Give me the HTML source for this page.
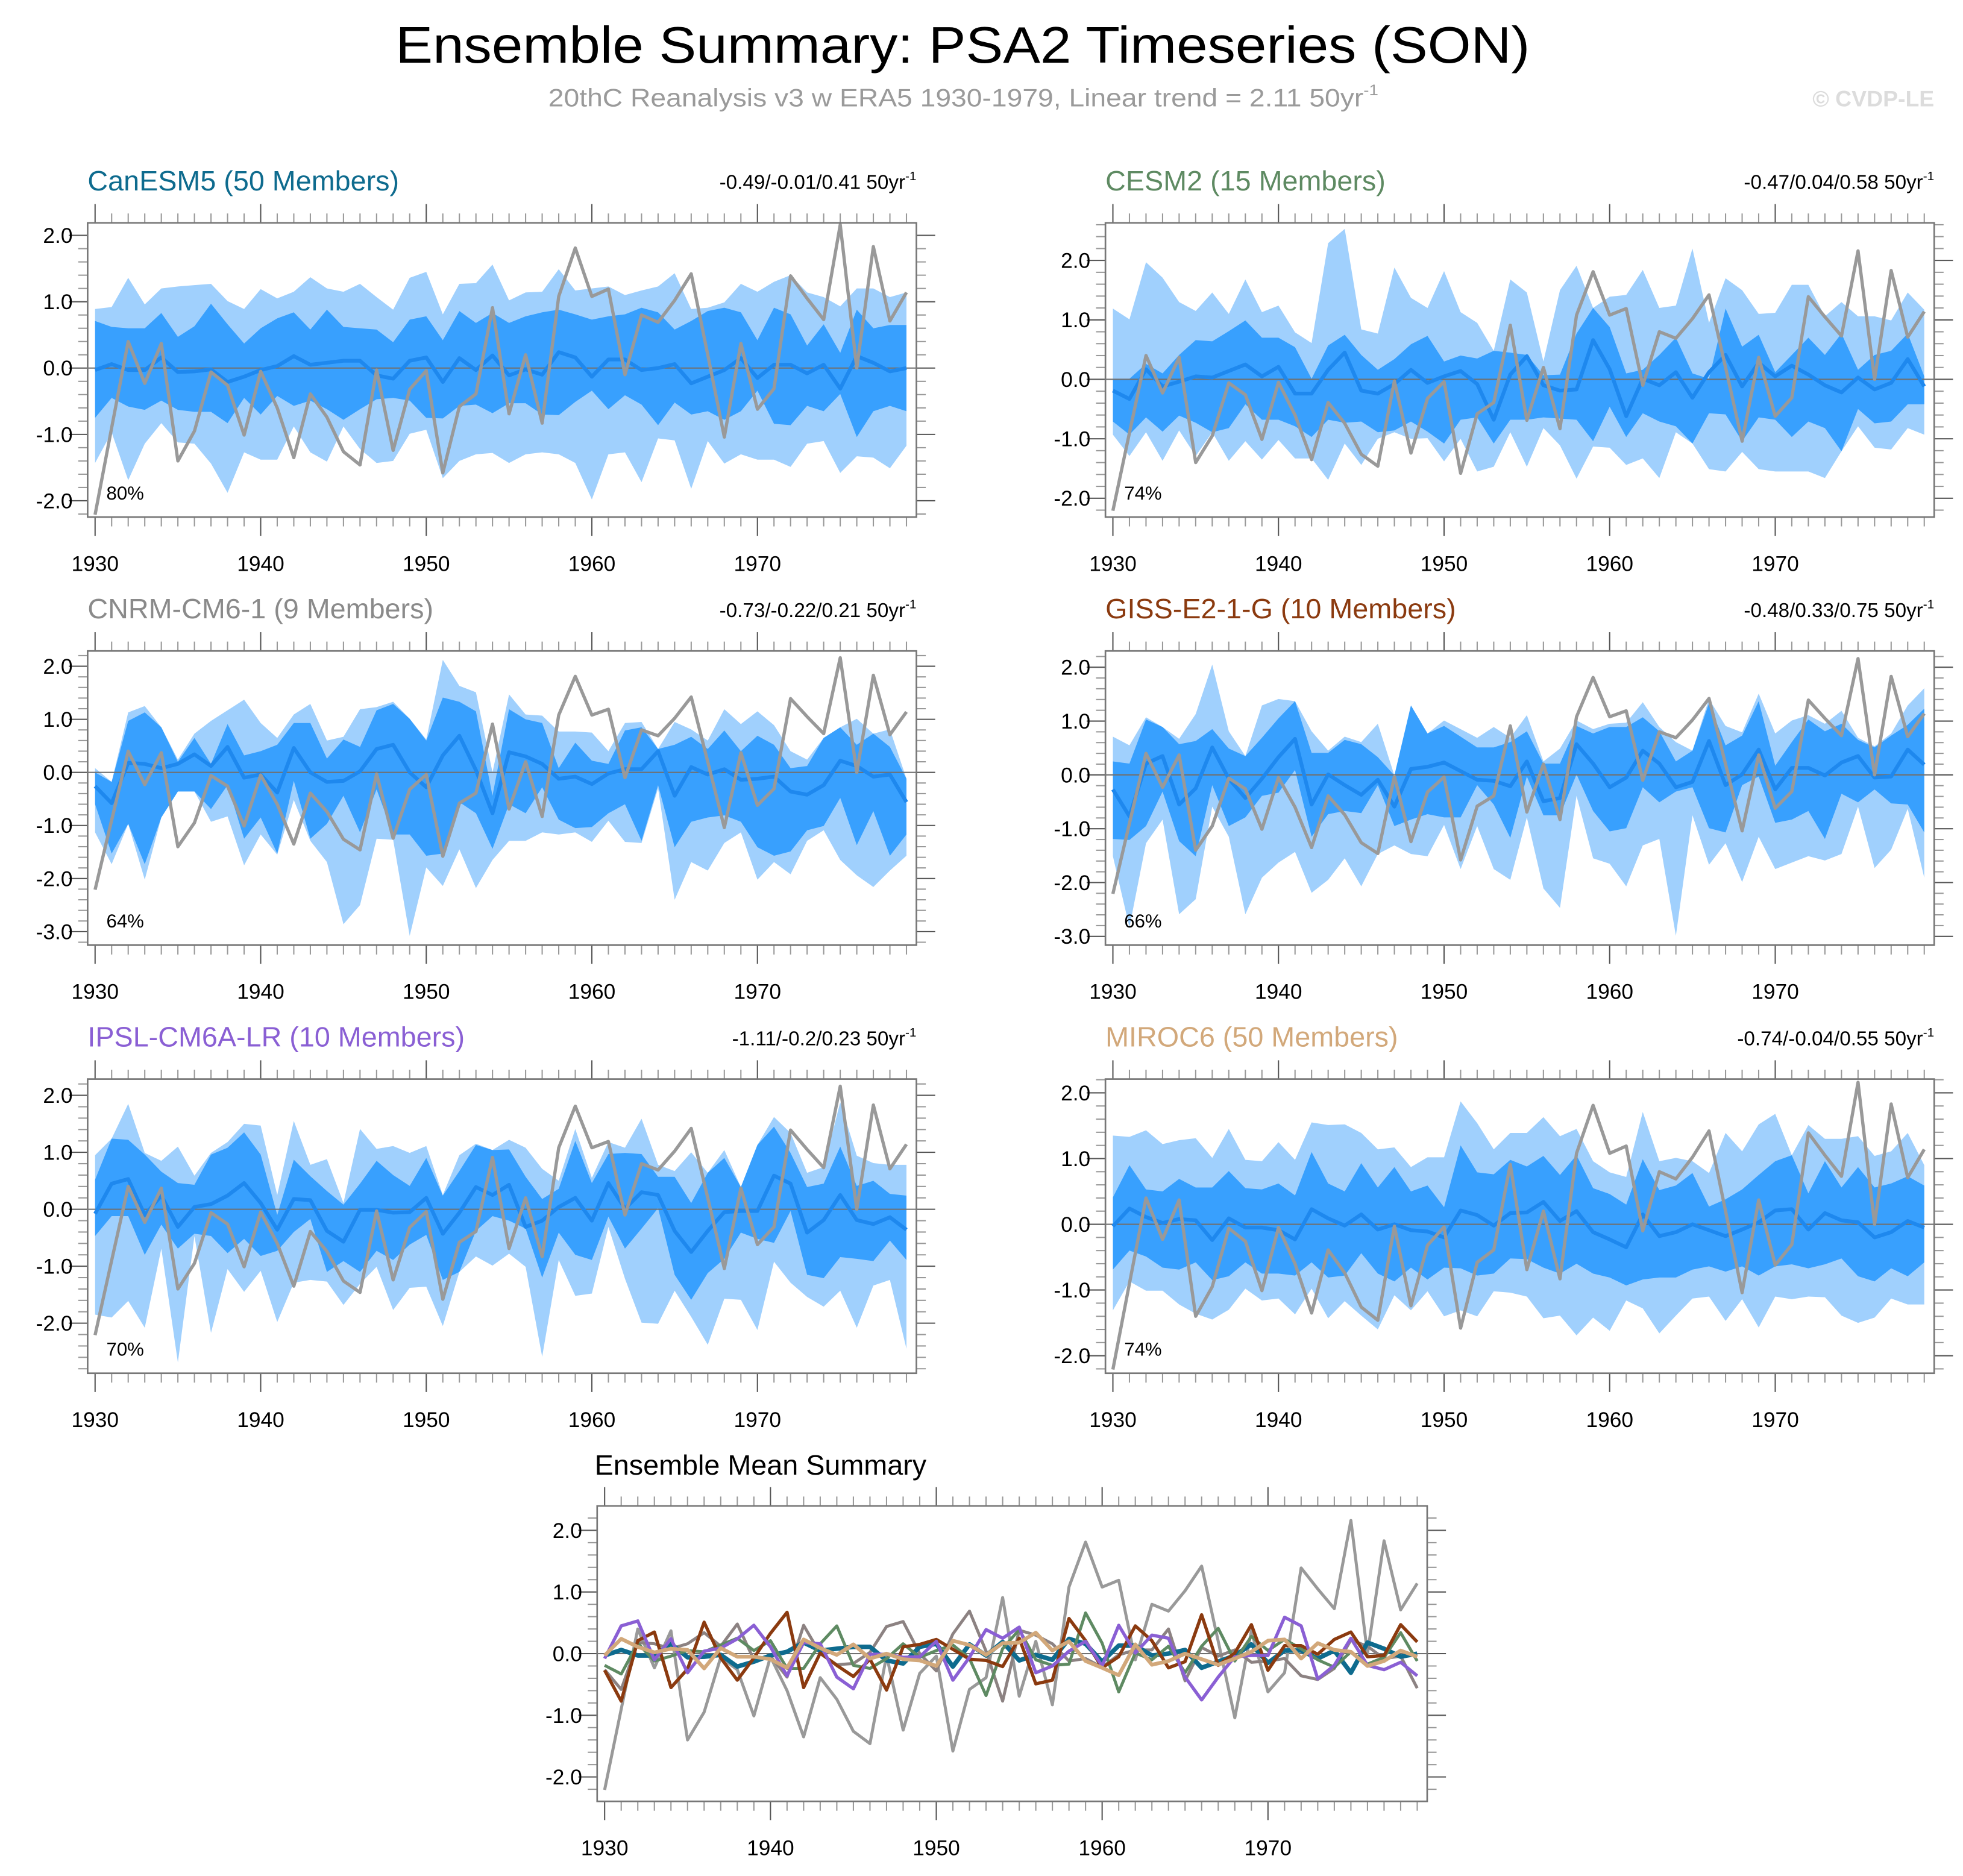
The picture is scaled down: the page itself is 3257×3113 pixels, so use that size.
<!DOCTYPE html>
<html><head><meta charset="utf-8"><title>Ensemble Summary: PSA2 Timeseries (SON)</title>
<style>
html,body{margin:0;padding:0;background:#fff;}
svg{display:block;font-family:"Liberation Sans",Arial,sans-serif;}
</style></head>
<body>
<svg id="chart" xmlns="http://www.w3.org/2000/svg" width="3257" height="3113" viewBox="0 0 1568 1498.6">
<rect x="0" y="0" width="1568" height="1499" fill="#fff"/>
<text x="769" y="50" text-anchor="middle" font-size="41" textLength="906" lengthAdjust="spacingAndGlyphs" fill="#000">Ensemble Summary: PSA2 Timeseries (SON)</text>
<text x="438" y="85" font-size="20" fill="#9a9a9a" textLength="663" lengthAdjust="spacingAndGlyphs">20thC Reanalysis v3 w ERA5 1930-1979, Linear trend = 2.11 50yr<tspan dy="-9" font-size="12">-1</tspan></text>
<text x="1545" y="85" text-anchor="end" font-size="18" font-weight="bold" fill="#dcdcdc">© CVDP-LE</text>
<text x="475" y="1178" font-size="22.5" fill="#000">Ensemble Mean Summary</text>
</svg>
<script>
// ---------- data ----------
const years = [1930,1931,1932,1933,1934,1935,1936,1937,1938,1939,1940,1941,1942,1943,1944,1945,1946,1947,1948,1949,1950,1951,1952,1953,1954,1955,1956,1957,1958,1959,1960,1961,1962,1963,1964,1965,1966,1967,1968,1969,1970,1971,1972,1973,1974,1975,1976,1977,1978,1979];
const xTickYears = [1930,1940,1950,1960,1970];
const xTickLabels = ["1930","1940","1950","1960","1970"];
const observed = [-2.21,-0.9,0.40,-0.23,0.37,-1.40,-0.95,-0.06,-0.26,-1.01,-0.05,-0.6,-1.35,-0.39,-0.74,-1.26,-1.46,-0.03,-1.24,-0.32,-0.04,-1.58,-0.58,-0.39,0.91,-0.69,0.2,-0.83,1.08,1.81,1.08,1.19,-0.1,0.8,0.69,1.02,1.42,0.2,-1.04,0.37,-0.62,-0.31,1.39,1.05,0.73,2.16,0.0,1.83,0.71,1.14];

const canesm5Mean = [-0.03,0.06,-0.03,-0.03,0.16,-0.06,-0.05,-0.02,-0.21,-0.13,-0.03,0.03,0.18,0.05,0.08,0.11,0.11,-0.11,-0.16,0.11,0.16,-0.21,0.15,-0.03,0.19,-0.11,-0.02,-0.10,0.24,0.16,-0.13,0.13,0.13,-0.03,0.00,0.06,-0.23,-0.13,-0.03,0.15,-0.15,0.05,0.05,-0.08,0.05,-0.31,0.18,0.08,-0.05,0.00];
const canesm5Hi1 = [0.89,0.92,1.36,0.96,1.20,1.23,1.25,1.27,1.01,0.89,1.19,1.05,1.15,1.37,1.20,1.15,1.27,1.07,0.88,1.36,1.45,0.81,1.27,1.28,1.56,1.02,1.14,1.15,1.49,1.17,1.20,1.23,1.10,1.17,1.23,1.43,0.89,0.91,0.99,1.27,1.15,1.30,1.40,1.14,1.07,0.93,1.20,1.20,1.07,1.14];
const canesm5Hi2 = [0.71,0.62,0.60,0.60,0.83,0.47,0.63,0.97,0.66,0.37,0.60,0.75,0.84,0.58,0.88,0.62,0.60,0.58,0.39,0.73,0.78,0.42,0.86,0.68,0.83,0.68,0.78,0.84,0.88,0.81,0.73,0.78,0.81,0.91,0.84,0.58,0.71,0.86,0.91,0.84,0.42,0.91,0.81,0.34,0.66,0.23,0.88,0.60,0.65,0.65];
const canesm5Lo2 = [-0.75,-0.45,-0.58,-0.63,-0.49,-0.63,-0.66,-0.66,-0.83,-0.45,-0.70,-0.42,-0.57,-0.49,-0.62,-0.78,-0.62,-0.47,-0.45,-0.49,-0.75,-0.76,-0.57,-0.55,-0.68,-0.53,-0.53,-0.70,-0.71,-0.51,-0.34,-0.62,-0.41,-0.55,-0.86,-0.52,-0.70,-0.65,-0.78,-0.65,-0.34,-0.84,-0.86,-0.57,-0.65,-0.39,-1.04,-0.65,-0.57,-0.65];
const canesm5Lo1 = [-1.43,-0.97,-1.69,-1.14,-0.83,-1.12,-1.14,-1.44,-1.88,-1.27,-1.38,-1.38,-0.88,-1.27,-1.41,-0.88,-1.22,-1.43,-1.40,-0.99,-0.93,-1.66,-1.40,-1.30,-1.28,-1.43,-1.30,-1.27,-1.30,-1.43,-1.98,-1.30,-1.27,-1.72,-1.06,-1.09,-1.82,-1.10,-1.44,-1.30,-1.38,-1.38,-1.49,-1.14,-1.10,-1.58,-1.33,-1.35,-1.51,-1.17];

const cesm2Mean = [-0.19,-0.33,0.17,-0.12,-0.04,0.05,0.03,0.14,0.25,0.05,0.21,-0.24,-0.24,0.16,0.45,-0.19,-0.24,-0.08,0.16,-0.06,0.05,0.14,-0.08,-0.68,0.08,0.39,-0.10,-0.19,-0.17,0.66,0.17,-0.62,0.01,-0.10,0.12,-0.31,0.12,0.41,-0.12,0.28,0.05,0.23,0.08,-0.10,-0.22,0.03,-0.17,-0.06,0.34,-0.12];
const cesm2Hi1 = [1.19,1.01,1.97,1.71,1.30,1.15,1.46,1.10,1.68,1.13,1.24,0.79,0.61,2.29,2.53,0.84,0.77,1.88,1.37,1.20,1.82,1.13,0.95,0.12,1.68,1.46,0.30,1.50,1.91,1.17,1.39,1.42,1.84,1.20,1.24,2.20,0.95,1.70,1.50,1.10,1.12,1.59,1.59,1.06,1.30,1.06,1.06,0.99,1.46,1.17];
const cesm2Hi2 = [0.01,0.01,0.26,0.10,0.41,0.66,0.64,0.81,0.99,0.70,0.70,0.54,0.01,0.57,0.75,0.41,0.16,0.34,0.59,0.73,0.30,0.40,0.35,0.48,0.45,0.41,0.07,0.08,0.77,1.20,0.88,0.10,0.16,0.41,0.70,0.10,0.01,1.19,0.55,0.75,0.12,0.41,0.70,0.41,0.77,0.16,0.41,0.48,0.77,0.05];
const cesm2Lo2 = [-0.71,-0.93,-0.64,-0.88,-0.61,-0.73,-0.89,-0.82,-0.42,-0.68,-0.68,-0.79,-0.97,-0.68,-0.73,-0.71,-0.89,-0.86,-0.71,-0.88,-1.08,-0.68,-0.64,-1.08,-0.68,-0.68,-0.64,-0.66,-0.68,-1.04,-0.46,-0.97,-0.57,-0.71,-0.79,-1.08,-0.57,-0.59,-1.04,-0.64,-0.68,-0.97,-0.71,-0.82,-1.21,-0.50,-0.74,-0.71,-0.42,-0.42];
const cesm2Lo1 = [-0.93,-1.29,-0.89,-1.37,-0.86,-1.29,-0.89,-1.37,-1.04,-1.35,-1.02,-1.33,-1.33,-1.69,-1.08,-1.44,-1.00,-0.89,-1.00,-0.99,-1.38,-1.00,-1.55,-1.47,-0.89,-1.47,-0.82,-1.11,-1.67,-1.13,-1.15,-1.44,-1.33,-1.66,-0.89,-1.04,-1.51,-1.55,-1.22,-1.51,-1.55,-1.55,-1.55,-1.66,-1.18,-0.79,-1.15,-1.18,-0.82,-0.93];

const cnrmMean = [-0.26,-0.58,0.18,0.16,0.08,0.16,0.34,0.12,0.48,-0.10,-0.04,-0.38,0.46,0.00,-0.18,-0.16,0.02,0.44,0.52,0.00,-0.28,0.32,0.69,0.04,-0.77,0.38,0.30,0.16,-0.12,-0.08,-0.22,-0.02,0.06,0.06,0.40,-0.44,0.10,-0.04,0.06,-0.14,-0.12,-0.08,-0.36,-0.42,-0.24,0.22,0.12,-0.08,-0.04,-0.56];
const cnrmHi1 = [0.08,-0.18,1.13,1.25,0.85,0.24,0.73,0.97,1.17,1.37,0.93,0.65,1.09,1.29,0.60,0.67,1.19,1.23,1.33,1.01,0.62,2.12,1.63,1.51,0.00,1.47,1.09,1.07,0.77,0.77,0.75,0.40,0.93,0.95,0.44,0.95,0.81,0.60,1.19,0.91,1.15,0.89,0.40,0.24,0.54,0.62,1.01,0.73,0.81,-0.12];
const cnrmHi2 = [0,-0.18,0.97,1.13,0.85,0.20,0.65,0.16,0.91,0.32,0.40,0.52,0.93,0.93,0.26,0.62,0.48,1.17,1.29,1.01,0.60,1.41,1.33,1.15,-0.44,1.19,1.00,0.93,0.08,0.56,0.22,0.16,0.79,0.85,0.44,0.52,0.67,0.44,0.79,0.40,0.69,0.52,0.08,0.12,0.65,0.85,0.52,0.73,0.48,-0.12];
const cnrmLo2 = [-0.60,-1.53,-0.97,-1.73,-0.85,-0.36,-0.36,-0.69,-0.24,-1.25,-0.85,-1.53,-0.16,-1.25,-0.97,-0.44,-1.13,-0.32,-1.17,-1.17,-1.57,-1.53,-0.56,-0.77,-1.44,-0.60,-0.77,-0.28,-0.89,-1.05,-1.03,-0.77,-0.60,-1.29,-0.24,-1.41,-0.93,-0.85,-0.81,-0.93,-1.41,-1.57,-1.49,-1.09,-1.01,-0.48,-1.37,-0.73,-1.57,-1.17];
const cnrmLo1 = [-1.13,-1.73,-0.97,-2.02,-0.85,-0.36,-0.36,-0.93,-0.83,-1.75,-1.17,-1.55,-0.52,-1.29,-1.69,-2.86,-2.50,-1.25,-1.27,-3.08,-1.79,-2.14,-1.45,-2.18,-1.65,-1.29,-1.29,-1.13,-1.17,-1.13,-1.31,-0.91,-1.31,-1.33,-0.30,-2.40,-1.69,-1.85,-1.33,-1.13,-2.02,-1.69,-1.92,-1.29,-1.09,-1.65,-1.94,-2.16,-1.85,-1.57];

const gissMean = [-0.27,-0.77,0.21,0.35,-0.55,-0.25,0.51,-0.07,-0.43,-0.07,0.33,0.67,-0.55,0.01,-0.19,-0.37,-0.09,-0.59,0.11,0.15,0.23,0.07,-0.09,-0.11,-0.21,0.25,-0.49,-0.43,0.57,0.21,-0.23,-0.05,0.45,0.21,-0.23,-0.13,0.63,-0.19,0.01,0.47,-0.27,0.13,0.13,-0.01,0.23,0.35,-0.05,-0.03,0.47,0.19];
const gissHi1 = [0.71,0.55,1.07,0.89,0.67,1.13,2.05,0.81,0.35,1.29,1.41,1.37,0.81,0.45,0.71,0.61,0.95,-0.01,1.29,0.77,1.01,0.85,0.69,0.89,0.69,1.11,0.25,0.49,1.01,0.85,0.95,0.97,1.35,0.89,0.61,0.45,1.41,0.91,0.79,1.51,0.77,1.01,1.11,0.95,1.19,0.69,0.53,0.77,1.29,1.61];
const gissHi2 = [0.25,0.21,1.03,0.89,0.57,0.63,0.85,0.49,0.35,0.69,1.05,1.37,0.41,0.41,0.65,0.57,0.33,-0.01,1.29,0.77,0.91,0.71,0.51,0.51,0.61,0.81,0.21,0.21,0.91,0.77,0.89,0.89,1.07,0.81,0.25,0.45,1.33,0.55,0.73,1.37,0.17,0.61,1.03,0.81,0.95,0.65,0.51,0.73,0.93,1.23];
const gissLo2 = [-1.19,-1.21,-0.95,-0.31,-1.23,-1.51,-0.19,-0.95,-0.79,-0.39,-0.33,0.09,-1.15,-0.73,-0.67,-0.71,-0.19,-0.95,-0.83,-0.73,-0.79,-0.79,-0.19,-0.55,-1.17,-0.03,-0.75,-0.75,0.01,-0.67,-1.05,-0.99,-0.23,-0.51,-0.31,-0.23,-0.99,-1.07,-0.19,-0.03,-0.89,-0.83,-0.67,-1.19,-0.35,-0.51,-0.27,-0.53,-0.55,-1.07];
const gissLo1 = [-1.51,-2.83,-1.27,-0.83,-2.59,-2.31,-0.59,-1.15,-2.59,-1.91,-1.63,-1.43,-2.19,-1.95,-1.55,-2.07,-1.47,-1.31,-1.47,-1.51,-0.93,-1.75,-0.95,-1.75,-1.95,-0.79,-2.11,-2.47,-0.39,-1.55,-1.65,-2.07,-1.31,-1.19,-2.99,-0.75,-1.67,-1.27,-1.99,-1.15,-1.75,-1.63,-1.51,-1.59,-1.47,-0.59,-1.73,-1.39,-0.63,-1.91];

const ipslMean = [-0.08,0.45,0.53,-0.10,0.24,-0.31,0.04,0.09,0.24,0.46,0.11,-0.36,0.18,0.16,-0.38,-0.57,-0.01,-0.01,-0.06,-0.05,0.20,-0.43,-0.06,0.39,0.25,0.43,-0.31,-0.20,0.04,0.20,-0.20,0.46,0.01,0.30,0.25,-0.38,-0.75,-0.38,-0.05,-0.03,-0.03,0.59,0.45,-0.41,-0.19,0.25,-0.19,-0.26,-0.14,-0.36];
const ipslHi1 = [0.95,1.24,1.85,0.99,0.85,1.10,0.59,0.99,1.18,1.50,1.47,0.25,1.55,0.78,0.88,0.11,1.41,1.06,1.11,0.99,1.11,0.25,0.95,1.15,1.02,1.22,1.08,0.71,0.50,1.41,0.55,1.18,1.08,1.59,0.78,0.67,1.00,0.64,1.04,0.39,1.09,1.62,1.34,0.64,0.74,1.88,0.94,0.81,0.78,0.78];
const ipslHi2 = [0.52,1.24,1.22,0.96,0.66,0.46,0.43,0.96,1.08,1.35,0.96,-0.10,0.87,0.58,0.32,0.08,0.45,0.85,0.60,0.41,0.90,0.24,0.67,1.13,1.04,1.05,0.57,0.18,0.36,1.20,0.46,0.97,0.99,0.97,0.57,0.57,0.11,0.64,0.90,0.39,1.13,1.45,0.99,0.39,0.45,1.10,0.41,0.50,0.27,0.24];
const ipslLo2 = [-0.47,-0.12,-0.12,-0.80,-0.27,-0.69,-0.43,-0.47,-0.77,-0.52,-0.82,-0.73,-0.40,-0.17,-1.10,-0.91,-1.10,-0.73,-0.89,-0.62,-0.45,-1.24,-1.10,-0.38,-0.12,-0.20,-0.34,-1.20,-0.41,-0.80,-0.89,-0.13,-0.69,-0.34,0.02,-1.15,-1.59,-1.12,-0.87,-0.41,-0.52,-0.59,-0.03,-1.15,-1.21,-0.84,-0.87,-0.91,-0.55,-0.89];
const ipslLo1 = [-1.85,-1.90,-1.61,-2.08,-0.69,-2.69,-0.47,-2.17,-1.05,-1.45,-1.08,-1.98,-1.29,-1.24,-1.27,-1.68,-1.31,-1.01,-1.77,-1.38,-1.36,-2.05,-1.01,-0.83,-0.99,-0.78,-1.01,-2.59,-0.89,-1.52,-1.48,-0.31,-1.22,-1.99,-2.01,-1.43,-1.89,-2.38,-1.57,-1.59,-2.12,-0.92,-1.29,-1.54,-1.71,-1.43,-2.08,-1.34,-1.24,-2.45];

const mirocMean = [-0.03,0.24,0.11,0.02,0.08,0.06,-0.24,0.09,-0.05,-0.05,-0.09,-0.23,0.23,0.09,-0.02,0.15,-0.08,0.00,-0.09,-0.11,-0.20,0.21,0.14,-0.02,0.17,0.18,0.34,0.05,0.20,-0.12,-0.23,-0.35,0.15,-0.18,-0.12,0.00,-0.09,-0.18,-0.08,0.03,0.21,0.23,-0.08,0.17,0.06,0.03,-0.20,-0.12,0.05,-0.05];
const mirocHi1 = [1.35,1.33,1.43,1.22,1.28,1.31,1.01,1.45,0.98,0.96,1.25,0.98,1.55,1.51,1.52,1.39,1.14,1.17,0.87,1.02,1.02,1.87,1.54,1.14,1.39,1.39,1.63,1.34,1.45,0.96,0.79,0.72,1.71,0.96,1.01,0.96,0.78,1.39,1.11,1.52,1.68,1.02,1.51,1.30,1.30,1.34,1.04,1.11,1.39,0.90];
const mirocHi2 = [0.41,0.90,0.53,0.50,0.69,0.56,0.56,0.81,0.55,0.53,0.62,0.44,1.10,0.62,0.50,0.93,0.56,0.87,0.50,0.59,0.26,1.20,0.79,0.76,0.98,0.88,1.04,0.75,1.05,0.55,0.46,0.30,0.99,0.52,0.59,0.78,0.27,0.38,0.53,0.75,0.96,1.05,0.47,0.96,0.56,0.87,0.56,0.62,0.73,0.59];
const mirocLo2 = [-0.69,-0.40,-0.49,-0.66,-0.69,-0.58,-0.85,-0.79,-0.58,-0.75,-0.75,-0.78,-0.58,-0.81,-0.78,-0.44,-0.75,-0.87,-0.66,-0.84,-0.66,-0.67,-0.78,-0.75,-0.52,-0.53,-0.66,-0.75,-0.60,-0.75,-0.81,-0.93,-0.84,-0.81,-0.81,-0.69,-0.64,-0.72,-0.64,-0.78,-0.64,-0.61,-0.67,-0.61,-0.52,-0.79,-0.87,-0.67,-0.79,-0.58];
const mirocLo1 = [-1.31,-0.87,-1.01,-1.01,-1.22,-1.36,-1.45,-1.30,-0.98,-1.16,-1.13,-1.37,-0.98,-1.43,-1.17,-1.39,-1.60,-1.08,-1.31,-1.02,-1.40,-1.31,-1.40,-1.02,-1.04,-1.10,-1.43,-1.39,-1.69,-1.42,-1.62,-1.16,-1.28,-1.66,-1.39,-1.13,-1.10,-1.47,-1.14,-1.57,-1.10,-1.14,-1.10,-1.11,-1.39,-1.50,-1.42,-1.13,-1.22,-1.22];

const modelNames = ["CanESM5 (50 Members)","CESM2 (15 Members)","CNRM-CM6-1 (9 Members)","GISS-E2-1-G (10 Members)","IPSL-CM6A-LR (10 Members)","MIROC6 (50 Members)"];
const trendLabels = ["-0.49/-0.01/0.41 50yr","-0.47/0.04/0.58 50yr","-0.73/-0.22/0.21 50yr","-0.48/0.33/0.75 50yr","-1.11/-0.2/0.23 50yr","-0.74/-0.04/0.55 50yr"];
const pctLabels = ["80%","74%","64%","66%","70%","74%"];
const yTicksA = [-2,-1,0,1,2];
const yTicksB = [-3,-2,-1,0,1,2];

// ---------- drawing ----------
const NS = "http://www.w3.org/2000/svg";
const svg = document.getElementById("chart");
function el(tag, attrs, parent, name, inter) {
  const e = document.createElementNS(NS, tag);
  for (const k in attrs) e.setAttribute(k, attrs[k]);
  
  
  (parent || svg).appendChild(e);
  return e;
}
const XMIN = 1929.55, XMAX = 1979.6;
function makeAxes(p) {
  p.X = yr => p.x0 + (yr - XMIN) / (XMAX - XMIN) * (p.x1 - p.x0);
  p.Y = v => p.zero - v * p.unit;
}
function pts(p, arr) { return arr.map((v, i) => p.X(years[i]).toFixed(2) + "," + p.Y(v).toFixed(2)).join(" "); }
function band(p, hi, lo, fill, g, name) {
  const up = hi.map((v, i) => p.X(years[i]).toFixed(2) + "," + p.Y(v).toFixed(2));
  const dn = lo.map((v, i) => p.X(years[i]).toFixed(2) + "," + p.Y(v).toFixed(2)).reverse();
  el("polygon", {points: up.concat(dn).join(" "), fill: fill, stroke: "none"}, g, name, false);
}
function frame(p, g, ticks) {
  const tc = "#555";
  years.forEach(yr => {
    const x = p.X(yr), major = (yr % 10 === 0);
    const L = major ? 15 : 7.5;
    el("line", {x1: x, y1: p.y0, x2: x, y2: p.y0 - L, stroke: major ? tc : "#999", "stroke-width": 1}, g, "x-tick-top", false);
    el("line", {x1: x, y1: p.y1, x2: x, y2: p.y1 + L, stroke: major ? tc : "#999", "stroke-width": 1}, g, "x-tick-bottom", false);
  });
  xTickYears.forEach((yr, i) => {
    const t = el("text", {x: p.X(yr), y: p.y1 + 43, "text-anchor": "middle", "font-size": 17, fill: "#000"}, g, "x-tick-label", false);
    t.textContent = xTickLabels[i];
  });
  const vTop = (p.zero - p.y0) / p.unit, vBot = (p.zero - p.y1) / p.unit;
  for (let k = Math.ceil(vBot * 5); k <= Math.floor(vTop * 5); k++) {
    const v = k / 5, y = p.Y(v), major = (k % 5 === 0);
    const L = major ? 15 : 7.5;
    el("line", {x1: p.x0, y1: y, x2: p.x0 - L, y2: y, stroke: major ? tc : "#999", "stroke-width": 1}, g, "y-tick-left", false);
    el("line", {x1: p.x1, y1: y, x2: p.x1 + L, y2: y, stroke: major ? tc : "#999", "stroke-width": 1}, g, "y-tick-right", false);
  }
  ticks.forEach(v => {
    const t = el("text", {x: p.x0 - 12, y: p.Y(v) + 6, "text-anchor": "end", "font-size": 17, fill: "#000"}, g, "y-tick-label", false);
    t.textContent = v.toFixed(1);
  });
  el("rect", {x: p.x0, y: p.y0, width: p.x1 - p.x0, height: p.y1 - p.y0, fill: "none", stroke: "#777", "stroke-width": 1.3}, g, "plot-frame", false);
}

const panelLayout = [
  {x0: 70, x1: 732, y0: 178, y1: 413, zero: 294, unit: 53, ticks: yTicksA, color: "#0e6b8e"},
  {x0: 883, x1: 1545, y0: 178, y1: 413, zero: 303, unit: 47.5, ticks: yTicksA, color: "#5e8a62"},
  {x0: 70, x1: 732, y0: 520, y1: 755, zero: 617, unit: 42.4, ticks: yTicksB, color: "#8a8a8a"},
  {x0: 883, x1: 1545, y0: 520, y1: 755, zero: 619, unit: 43, ticks: yTicksB, color: "#8b3a0f"},
  {x0: 70, x1: 732, y0: 862, y1: 1097, zero: 966, unit: 45.5, ticks: yTicksA, color: "#8a5fd4"},
  {x0: 883, x1: 1545, y0: 862, y1: 1097, zero: 978, unit: 52.5, ticks: yTicksA, color: "#d2a87a"}
];
const modelData = [
  [canesm5Mean, canesm5Hi1, canesm5Hi2, canesm5Lo2, canesm5Lo1],
  [cesm2Mean, cesm2Hi1, cesm2Hi2, cesm2Lo2, cesm2Lo1],
  [cnrmMean, cnrmHi1, cnrmHi2, cnrmLo2, cnrmLo1],
  [gissMean, gissHi1, gissHi2, gissLo2, gissLo1],
  [ipslMean, ipslHi1, ipslHi2, ipslLo2, ipslLo1],
  [mirocMean, mirocHi1, mirocHi2, mirocLo2, mirocLo1]
];
const panelNames = ["canesm5-panel","cesm2-panel","cnrm-cm6-1-panel","giss-e2-1-g-panel","ipsl-cm6a-lr-panel","miroc6-panel"];

panelLayout.forEach((p, m) => {
  makeAxes(p);
  const g = el("g", {}, svg, panelNames[m], false);
  const [mean, hi1, hi2, lo2, lo1] = modelData[m];
  const hiA = hi1.map((v, i) => Math.max(v, hi2[i], mean[i]));
  const loA = lo1.map((v, i) => Math.min(v, lo2[i], mean[i]));
  band(p, hiA, loA, "#a0d0fd", g, "ensemble-range-band");
  band(p, hi2, lo2, "#38a0fe", g, "ensemble-inner-band");
  el("line", {x1: p.x0, y1: p.Y(0), x2: p.x1, y2: p.Y(0), stroke: "#707070", "stroke-width": 1}, g, "zero-line", false);
  el("polyline", {points: pts(p, mean), fill: "none", stroke: "#1e88ee", "stroke-width": 3, "stroke-linejoin": "round"}, g, "ensemble-mean-line", false);
  el("polyline", {points: pts(p, observed), fill: "none", stroke: "#999", "stroke-width": 2.6, "stroke-linejoin": "round"}, g, "observed-line", false);
  frame(p, g, p.ticks);
  const t = el("text", {x: p.x0, y: p.y0 - 26, "font-size": 22.5, fill: p.color}, g, "model-title", false);
  t.textContent = modelNames[m];
  const s = el("text", {x: p.x1, y: p.y0 - 27, "text-anchor": "end", "font-size": 16, fill: "#000"}, g, "trend-label", false);
  s.textContent = trendLabels[m];
  const sup = el("tspan", {dy: -7, "font-size": 10}, s, "trend-unit-exponent", false);
  sup.textContent = "-1";
  const pc = el("text", {x: p.x0 + 15, y: p.y1 - 14, "font-size": 15, fill: "#000"}, g, "percent-label", false);
  pc.textContent = pctLabels[m];
});

// ensemble mean summary panel
const sp = {x0: 477, x1: 1140, y0: 1203, y1: 1439, zero: 1321, unit: 49.25};
makeAxes(sp);
const sg = el("g", {}, svg, "ensemble-mean-summary-panel", false);
el("line", {x1: sp.x0, y1: sp.Y(0), x2: sp.x1, y2: sp.Y(0), stroke: "#707070", "stroke-width": 1}, sg, "zero-line", false);
el("polyline", {points: pts(sp, observed), fill: "none", stroke: "#999", "stroke-width": 2.4, "stroke-linejoin": "round"}, sg, "observed-line", false);
const summaryColors = ["#0e6b8e","#5e8a62","#8c8282","#8b3a0f","#8a5fd4","#d2a87a"];
const summaryWidths = [3.6, 2.4, 2.4, 2.6, 2.6, 3];
const summaryOrder = [2, 0, 1, 3, 4, 5];
const summaryNames = ["canesm5-mean-line","cesm2-mean-line","cnrm-cm6-1-mean-line","giss-e2-1-g-mean-line","ipsl-cm6a-lr-mean-line","miroc6-mean-line"];
summaryOrder.forEach(m => {
  el("polyline", {points: pts(sp, modelData[m][0]), fill: "none", stroke: summaryColors[m], "stroke-width": summaryWidths[m], "stroke-linejoin": "round"}, sg, summaryNames[m], false);
});
frame(sp, sg, yTicksA);
</script>
</body></html>
